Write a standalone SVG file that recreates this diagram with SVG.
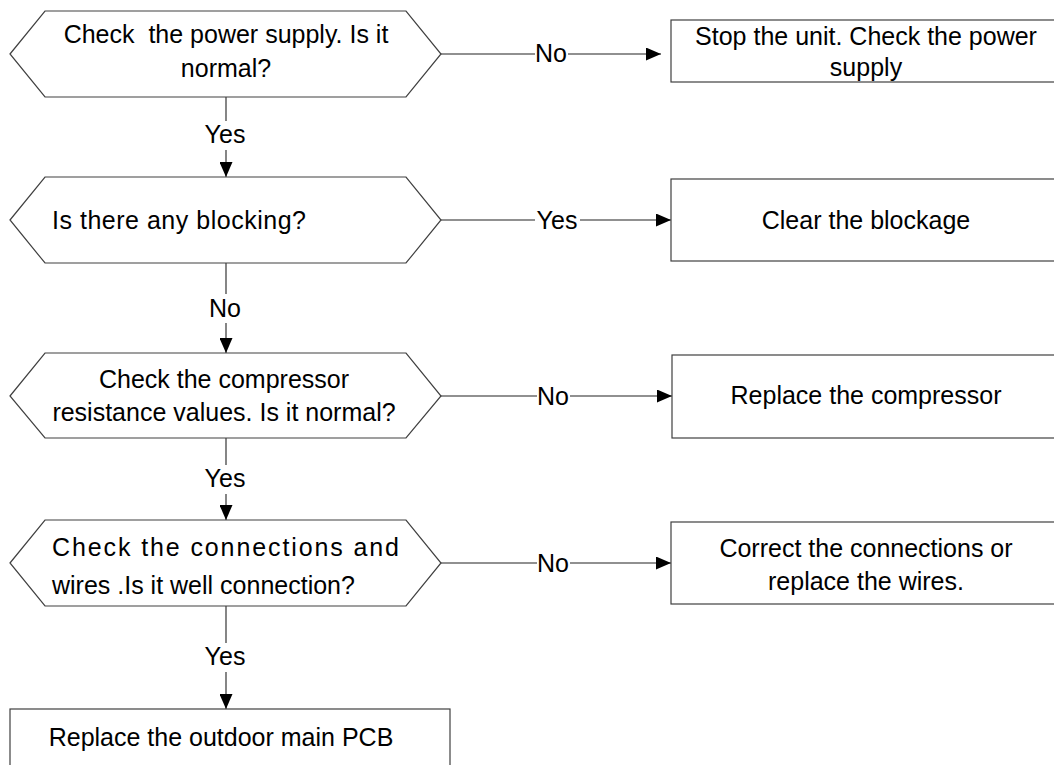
<svg xmlns="http://www.w3.org/2000/svg" width="1054" height="765" viewBox="0 0 1054 765">
<defs>
<style>
.shape{fill:#fff;stroke:#404040;stroke-width:1.2}
.t{font-family:"Liberation Sans",Arial,sans-serif;font-size:25px;fill:#000;white-space:pre}
.c{text-anchor:middle}
.ln{stroke:#222;stroke-width:1.1;fill:none}
.bg{fill:#fff}
</style>
<marker id="ah" markerUnits="userSpaceOnUse" markerWidth="15" markerHeight="13" refX="15" refY="6.5" orient="auto">
<path d="M0,0 L15,6.5 L0,13 Z" fill="#000"/>
</marker>
</defs>
<rect width="1054" height="765" fill="#fff"/>

<g id="connectors">
<line class="ln" x1="441" y1="54" x2="661" y2="54" marker-end="url(#ah)"/>
<line class="ln" x1="441" y1="220" x2="671" y2="220" marker-end="url(#ah)"/>
<line class="ln" x1="441" y1="396" x2="672" y2="396" marker-end="url(#ah)"/>
<line class="ln" x1="441" y1="563" x2="671" y2="563" marker-end="url(#ah)"/>
<line class="ln" x1="226" y1="97" x2="226" y2="177" marker-end="url(#ah)"/>
<line class="ln" x1="226" y1="263" x2="226" y2="353" marker-end="url(#ah)"/>
<line class="ln" x1="226" y1="438" x2="226" y2="520" marker-end="url(#ah)"/>
<line class="ln" x1="226" y1="606" x2="226" y2="709" marker-end="url(#ah)"/>
<rect class="bg" x="535" y="42" width="33" height="24"/>
<text class="t c" x="551" y="62">No</text>
<rect class="bg" x="535" y="208" width="45" height="24"/>
<text class="t c" x="557" y="229">Yes</text>
<rect class="bg" x="537" y="384" width="33" height="24"/>
<text class="t c" x="553" y="405">No</text>
<rect class="bg" x="537" y="551" width="33" height="24"/>
<text class="t c" x="553" y="572">No</text>
<rect class="bg" x="202" y="121" width="47" height="29"/>
<text class="t c" x="225" y="143">Yes</text>
<rect class="bg" x="208" y="294" width="35" height="29"/>
<text class="t c" x="225" y="317">No</text>
<rect class="bg" x="202" y="465" width="47" height="29"/>
<text class="t c" x="225" y="487">Yes</text>
<rect class="bg" x="202" y="643" width="47" height="29"/>
<text class="t c" x="225" y="665">Yes</text>
</g>

<g id="q1">
<polygon class="shape" points="10,54 45,11 406,11 441,54 406,97 45,97"/>
<text class="t c" x="226" y="43">Check  the power supply. Is it</text>
<text class="t c" x="226" y="77">normal?</text>
</g>
<g id="a1">
<rect class="shape" x="671" y="20" width="400" height="62"/>
<text class="t c" x="866" y="45">Stop the unit. Check the power</text>
<text class="t c" x="866" y="76">supply</text>
</g>

<g id="q2">
<polygon class="shape" points="10,220 45,177 406,177 441,220 406,263 45,263"/>
<text class="t" x="52" y="229" textLength="254" lengthAdjust="spacing">Is there any blocking?</text>
</g>
<g id="a2">
<rect class="shape" x="671" y="179" width="400" height="82"/>
<text class="t c" x="866" y="229">Clear the blockage</text>
</g>

<g id="q3">
<polygon class="shape" points="10,396 45,353 406,353 441,396 406,438 45,438"/>
<text class="t c" x="224" y="388">Check the compressor</text>
<text class="t c" x="224" y="421">resistance values. Is it normal?</text>
</g>
<g id="a3">
<rect class="shape" x="672" y="355" width="400" height="83"/>
<text class="t c" x="866" y="404">Replace the compressor</text>
</g>

<g id="q4">
<polygon class="shape" points="10,563 45,520 406,520 441,563 406,606 45,606"/>
<text class="t" x="52" y="556" textLength="347" lengthAdjust="spacing">Check the connections and</text>
<text class="t" x="52" y="594">wires .Is it well connection?</text>
</g>
<g id="a4">
<rect class="shape" x="671" y="522" width="400" height="82"/>
<text class="t c" x="866" y="557">Correct the connections or</text>
<text class="t c" x="866" y="590">replace the wires.</text>
</g>

<g id="end">
<rect class="shape" x="10" y="709" width="440" height="80"/>
<text class="t c" x="221" y="746">Replace the outdoor main PCB</text>
</g>
</svg>
